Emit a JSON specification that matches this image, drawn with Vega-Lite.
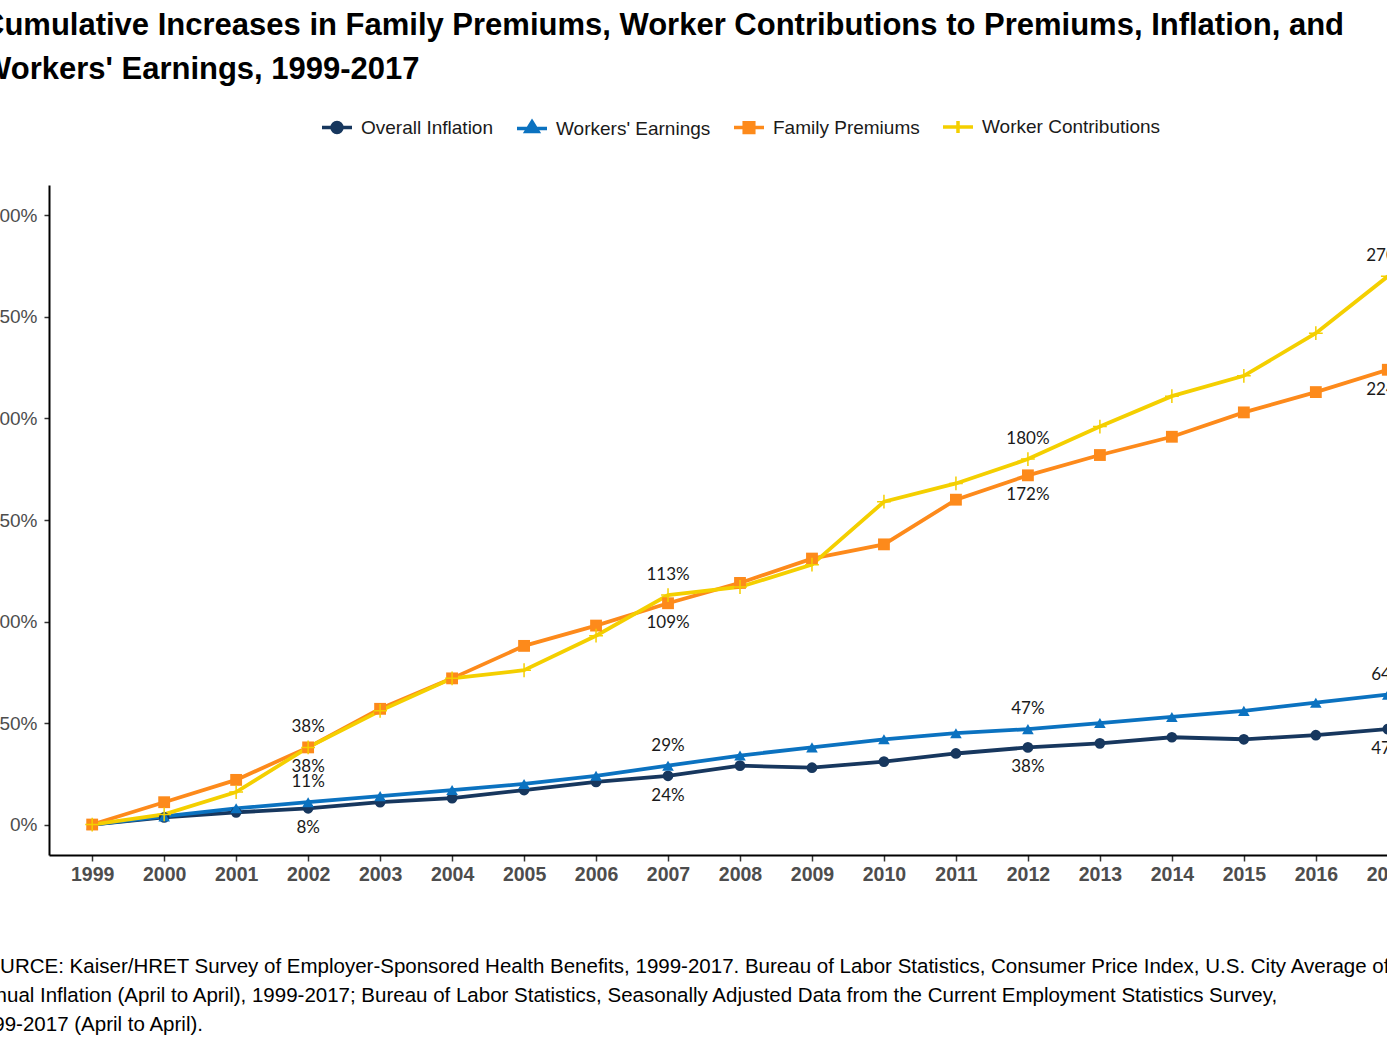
{
  "$schema": "https://vega.github.io/schema/vega-lite/v6.json",
  "width": 1382,
  "height": 670,
  "autosize": {"type": "none"},
  "padding": {"left": 49, "top": 185, "right": -44, "bottom": 188},
  "background": "white",
  "title": {
    "text": ["Cumulative Increases in Family Premiums, Worker Contributions to Premiums, Inflation, and", "Workers' Earnings, 1999-2017"],
    "anchor": "start",
    "frame": "group",
    "dx": -67,
    "dy": -14,
    "font": "Liberation Sans",
    "fontSize": 31,
    "fontWeight": "bold",
    "color": "black",
    "lineHeight": 44,
    "offset": 10
  },
  "data": {
    "values": [
      {"year": 1999, "series": "Overall Inflation", "value": 0},
      {"year": 2000, "series": "Overall Inflation", "value": 0.035},
      {"year": 2001, "series": "Overall Inflation", "value": 0.06},
      {"year": 2002, "series": "Overall Inflation", "value": 0.08},
      {"year": 2003, "series": "Overall Inflation", "value": 0.11},
      {"year": 2004, "series": "Overall Inflation", "value": 0.13},
      {"year": 2005, "series": "Overall Inflation", "value": 0.17},
      {"year": 2006, "series": "Overall Inflation", "value": 0.21},
      {"year": 2007, "series": "Overall Inflation", "value": 0.24},
      {"year": 2008, "series": "Overall Inflation", "value": 0.29},
      {"year": 2009, "series": "Overall Inflation", "value": 0.28},
      {"year": 2010, "series": "Overall Inflation", "value": 0.31},
      {"year": 2011, "series": "Overall Inflation", "value": 0.35},
      {"year": 2012, "series": "Overall Inflation", "value": 0.38},
      {"year": 2013, "series": "Overall Inflation", "value": 0.40},
      {"year": 2014, "series": "Overall Inflation", "value": 0.43},
      {"year": 2015, "series": "Overall Inflation", "value": 0.42},
      {"year": 2016, "series": "Overall Inflation", "value": 0.44},
      {"year": 2017, "series": "Overall Inflation", "value": 0.47},
      {"year": 1999, "series": "Workers' Earnings", "value": 0},
      {"year": 2000, "series": "Workers' Earnings", "value": 0.04},
      {"year": 2001, "series": "Workers' Earnings", "value": 0.08},
      {"year": 2002, "series": "Workers' Earnings", "value": 0.11},
      {"year": 2003, "series": "Workers' Earnings", "value": 0.14},
      {"year": 2004, "series": "Workers' Earnings", "value": 0.17},
      {"year": 2005, "series": "Workers' Earnings", "value": 0.20},
      {"year": 2006, "series": "Workers' Earnings", "value": 0.24},
      {"year": 2007, "series": "Workers' Earnings", "value": 0.29},
      {"year": 2008, "series": "Workers' Earnings", "value": 0.34},
      {"year": 2009, "series": "Workers' Earnings", "value": 0.38},
      {"year": 2010, "series": "Workers' Earnings", "value": 0.42},
      {"year": 2011, "series": "Workers' Earnings", "value": 0.45},
      {"year": 2012, "series": "Workers' Earnings", "value": 0.47},
      {"year": 2013, "series": "Workers' Earnings", "value": 0.50},
      {"year": 2014, "series": "Workers' Earnings", "value": 0.53},
      {"year": 2015, "series": "Workers' Earnings", "value": 0.56},
      {"year": 2016, "series": "Workers' Earnings", "value": 0.60},
      {"year": 2017, "series": "Workers' Earnings", "value": 0.64},
      {"year": 1999, "series": "Family Premiums", "value": 0},
      {"year": 2000, "series": "Family Premiums", "value": 0.11},
      {"year": 2001, "series": "Family Premiums", "value": 0.22},
      {"year": 2002, "series": "Family Premiums", "value": 0.38},
      {"year": 2003, "series": "Family Premiums", "value": 0.57},
      {"year": 2004, "series": "Family Premiums", "value": 0.72},
      {"year": 2005, "series": "Family Premiums", "value": 0.88},
      {"year": 2006, "series": "Family Premiums", "value": 0.98},
      {"year": 2007, "series": "Family Premiums", "value": 1.09},
      {"year": 2008, "series": "Family Premiums", "value": 1.19},
      {"year": 2009, "series": "Family Premiums", "value": 1.31},
      {"year": 2010, "series": "Family Premiums", "value": 1.38},
      {"year": 2011, "series": "Family Premiums", "value": 1.60},
      {"year": 2012, "series": "Family Premiums", "value": 1.72},
      {"year": 2013, "series": "Family Premiums", "value": 1.82},
      {"year": 2014, "series": "Family Premiums", "value": 1.91},
      {"year": 2015, "series": "Family Premiums", "value": 2.03},
      {"year": 2016, "series": "Family Premiums", "value": 2.13},
      {"year": 2017, "series": "Family Premiums", "value": 2.24},
      {"year": 1999, "series": "Worker Contributions", "value": 0},
      {"year": 2000, "series": "Worker Contributions", "value": 0.05},
      {"year": 2001, "series": "Worker Contributions", "value": 0.16},
      {"year": 2002, "series": "Worker Contributions", "value": 0.38},
      {"year": 2003, "series": "Worker Contributions", "value": 0.56},
      {"year": 2004, "series": "Worker Contributions", "value": 0.72},
      {"year": 2005, "series": "Worker Contributions", "value": 0.76},
      {"year": 2006, "series": "Worker Contributions", "value": 0.93},
      {"year": 2007, "series": "Worker Contributions", "value": 1.13},
      {"year": 2008, "series": "Worker Contributions", "value": 1.17},
      {"year": 2009, "series": "Worker Contributions", "value": 1.28},
      {"year": 2010, "series": "Worker Contributions", "value": 1.59},
      {"year": 2011, "series": "Worker Contributions", "value": 1.68},
      {"year": 2012, "series": "Worker Contributions", "value": 1.80},
      {"year": 2013, "series": "Worker Contributions", "value": 1.96},
      {"year": 2014, "series": "Worker Contributions", "value": 2.11},
      {"year": 2015, "series": "Worker Contributions", "value": 2.21},
      {"year": 2016, "series": "Worker Contributions", "value": 2.42},
      {"year": 2017, "series": "Worker Contributions", "value": 2.70}
    ]
  },
  "encoding": {
    "x": {
      "field": "year",
      "type": "quantitative",
      "scale": {"domain": [1998.4, 2017.6], "nice": false, "zero": false},
      "axis": {
        "values": [1999, 2000, 2001, 2002, 2003, 2004, 2005, 2006, 2007, 2008, 2009, 2010, 2011, 2012, 2013, 2014, 2015, 2016, 2017],
        "format": "d",
        "labelFontWeight": "bold",
        "labelFontSize": 19.5,
        "labelFlush": false,
        "labelOverlap": false,
        "tickSize": 6,
        "labelPadding": 4,
        "title": ["SOURCE: Kaiser/HRET Survey of Employer-Sponsored Health Benefits, 1999-2017. Bureau of Labor Statistics, Consumer Price Index, U.S. City Average of", "Annual Inflation (April to April), 1999-2017; Bureau of Labor Statistics, Seasonally Adjusted Data from the Current Employment Statistics Survey,", "1999-2017 (April to April)."],
        "titleFont": "Liberation Sans",
        "titleFontSize": 20.5,
        "titleFontWeight": "normal",
        "titleColor": "black",
        "titleAnchor": "start",
        "titleAlign": "left",
        "titleBaseline": "top",
        "titleX": -79,
        "titleY": 101,
        "titleLineHeight": 29
      }
    },
    "y": {
      "field": "value",
      "type": "quantitative",
      "scale": {"domain": [-0.15, 3.15], "nice": false, "zero": false},
      "axis": {
        "values": [0, 0.5, 1, 1.5, 2, 2.5, 3],
        "format": ".0%",
        "title": null,
        "tickSize": 5,
        "labelPadding": 7
      }
    }
  },
  "layer": [
    {
      "mark": {"type": "line", "strokeWidth": 3.8},
      "encoding": {
        "color": {
          "field": "series",
          "type": "nominal",
          "scale": {
            "domain": ["Overall Inflation", "Workers' Earnings", "Family Premiums", "Worker Contributions"],
            "range": ["#17375e", "#0b72c0", "#fd8a1b", "#f4cf00"]
          },
          "legend": {
            "title": null,
            "orient": "none",
            "legendX": 271,
            "legendY": -75,
            "direction": "horizontal",
            "padding": 0,
            "labelFont": "Liberation Sans",
            "labelFontSize": 19,
            "labelColor": "#1a1a1a",
            "labelLimit": 400,
            "labelOffset": 7,
            "columnPadding": 16,
            "symbolSize": 900,
            "symbolStrokeWidth": 3.5,
            "encode": {
              "symbols": {
                "update": {
                  "shape": {"signal": "datum.value === 'Overall Inflation' ? 'M-1,0H1M0.33,0A0.33,0.33,0,1,1,-0.33,0A0.33,0.33,0,1,1,0.33,0Z' : datum.value === 'Family Premiums' ? 'M-1,0H1M-0.32,-0.32H0.32V0.32H-0.32Z' : datum.value === 'Worker Contributions' ? 'M-1,0H1M0,-0.4V0.4' : 'M-1,0H1M0,-0.45L0.4,0.2L-0.4,0.2Z'"},
                  "size": {"value": 900},
                  "fill": {"scale": "color", "field": "value"},
                  "stroke": {"scale": "color", "field": "value"},
                  "fillOpacity": {"value": 1},
                  "strokeOpacity": {"value": 1},
                  "opacity": {"value": 1},
                  "strokeWidth": {"value": 3.5}
                }
              }
            }
          }
        }
      }
    },
    {
      "transform": [{"filter": {"field": "series", "equal": "Overall Inflation"}}],
      "mark": {"type": "point", "shape": "circle", "filled": true, "opacity": 1, "size": 115, "color": "#17375e"}
    },
    {
      "transform": [{"filter": {"field": "series", "equal": "Workers' Earnings"}}],
      "mark": {"type": "point", "shape": "triangle-up", "filled": true, "opacity": 1, "size": 135, "color": "#0b72c0"}
    },
    {
      "transform": [{"filter": {"field": "series", "equal": "Family Premiums"}}],
      "mark": {"type": "point", "shape": "square", "filled": true, "opacity": 1, "size": 140, "color": "#fd8a1b"}
    },
    {
      "transform": [{"filter": {"field": "series", "equal": "Worker Contributions"}}],
      "mark": {"type": "point", "shape": "M-1,0H1M0,-1V1", "filled": false, "opacity": 1, "size": 190, "strokeWidth": 1.5, "color": "#f4cf00"}
    },
    {
      "transform": [
        {"filter": {"and": [
          {"field": "series", "oneOf": ["Worker Contributions", "Workers' Earnings"]},
          {"field": "year", "oneOf": [2002, 2007, 2012, 2017]}
        ]}}
      ],
      "mark": {"type": "text", "dy": -20, "font": "Lato", "fontSize": 17, "color": "#1a1a1a", "baseline": "middle", "align": "center"},
      "encoding": {"text": {"field": "value", "type": "quantitative", "format": ".0%"}}
    },
    {
      "transform": [
        {"filter": {"and": [
          {"field": "series", "oneOf": ["Family Premiums", "Overall Inflation"]},
          {"field": "year", "oneOf": [2002, 2007, 2012, 2017]}
        ]}}
      ],
      "mark": {"type": "text", "dy": 20, "font": "Lato", "fontSize": 17, "color": "#1a1a1a", "baseline": "middle", "align": "center"},
      "encoding": {"text": {"field": "value", "type": "quantitative", "format": ".0%"}}
    }
  ],
  "config": {
    "view": {"stroke": null},
    "axis": {
      "grid": false,
      "domainColor": "black",
      "domainWidth": 2,
      "tickColor": "#333333",
      "tickWidth": 1.5,
      "labelFont": "Liberation Sans",
      "labelFontSize": 19,
      "labelColor": "#4d4d4d"
    }
  }
}
